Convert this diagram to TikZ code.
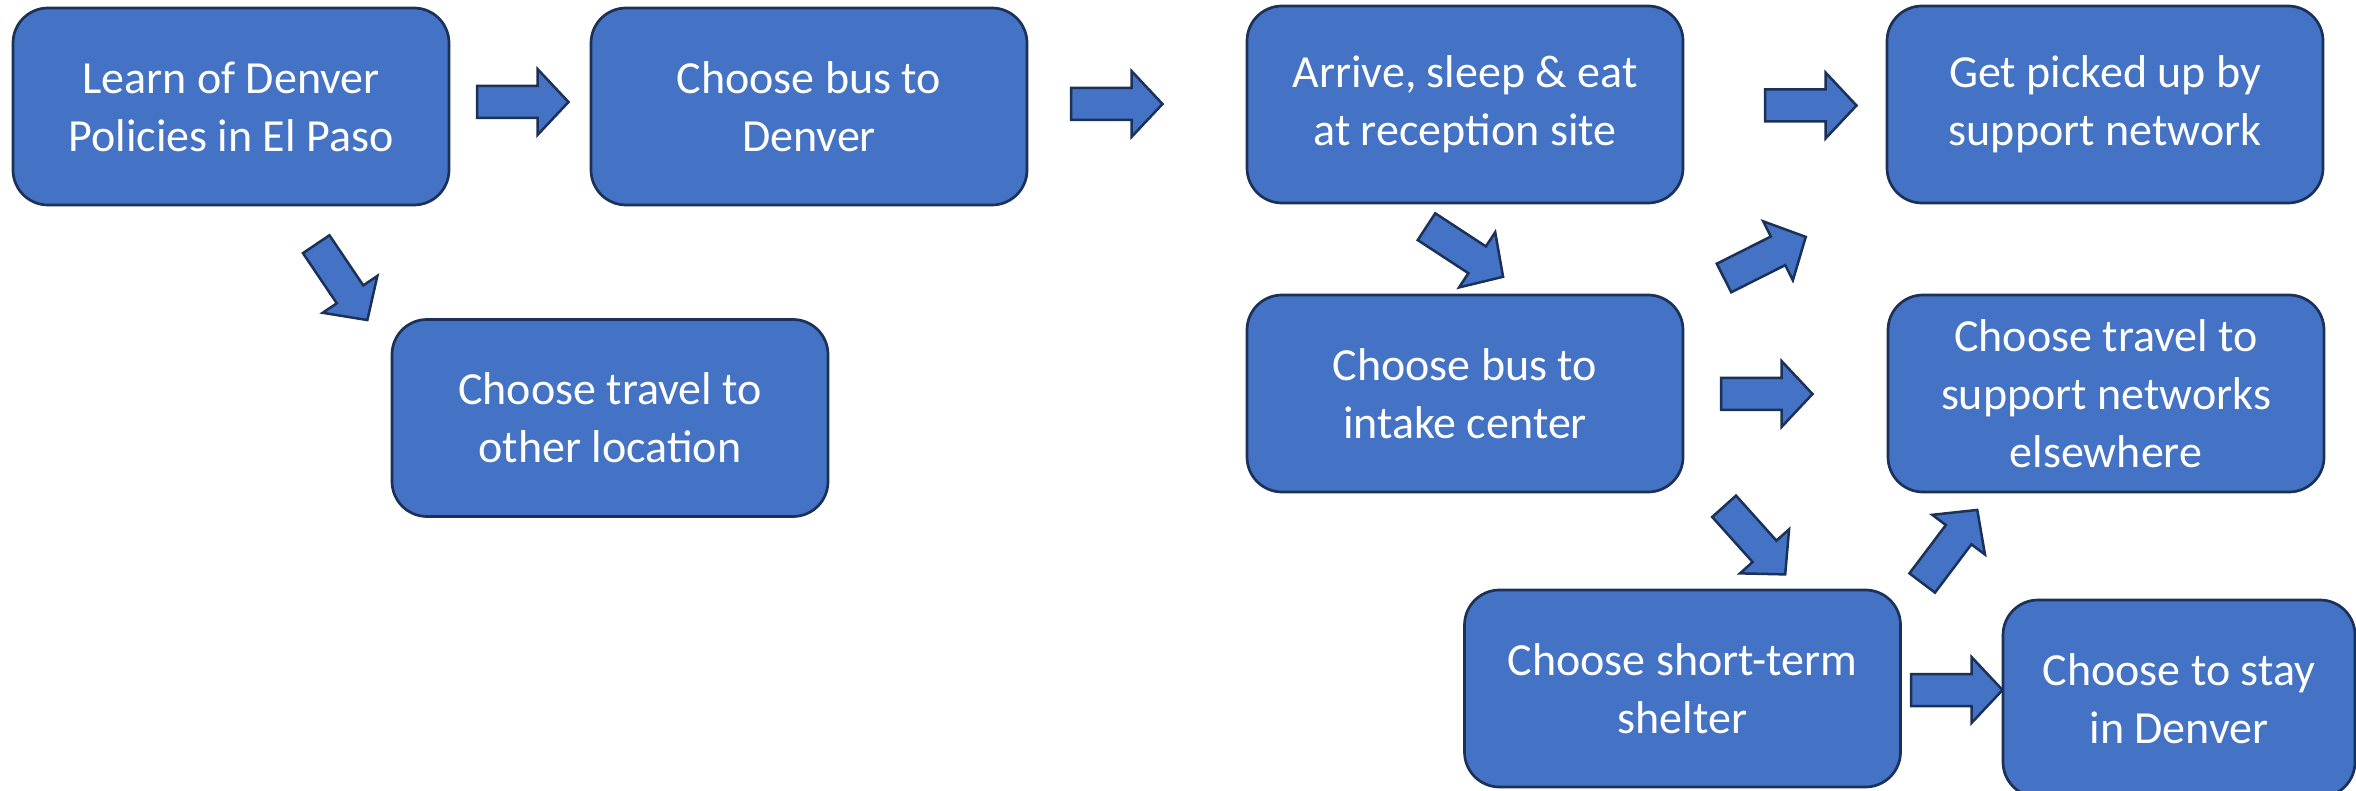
\documentclass[tikz,border=0pt]{standalone}
\usepackage{fontspec}
\setmainfont{Carlito}
\definecolor{boxfill}{HTML}{4472C4}
\definecolor{boxline}{HTML}{1C3158}
\tikzset{
  flowbox/.style={draw=boxline, fill=boxfill, line width=2.7pt, rounded corners=35pt,
    minimum width=436pt, minimum height=197pt, align=center, text=white,
    font=\fontsize{46}{58}\selectfont, inner sep=0pt},
  blockarrow/.pic={\draw[draw=boxline, fill=boxfill, line width=2.5pt, line join=miter]
    (0,-16) -- (60.5,-16) -- (60.5,-33) -- (91.5,0) -- (60.5,33) -- (60.5,16) -- (0,16) -- cycle;}
}
\begin{document}
\begin{tikzpicture}[x=1pt,y=-1pt]
\useasboundingbox (0,0) rectangle (2356,791);
\fill[white] (0,0) rectangle (2356,791);
\clip (0,0) rectangle (2356,791);

\node[flowbox] (learn)   at (231,106.5)  {Learn of Denver\\Policies in El Paso};
\node[flowbox] (bus)     at (809,106.5)  {Choose bus to\\Denver};
\node[flowbox] (other)   at (610,418)    {Choose travel to\\other location};
\node[flowbox] (arrive)  at (1465,104.5) {Arrive, sleep \& eat\\at reception site};
\node[flowbox] (pickup)  at (2105,104.5) {Get picked up by\\support network};
\node[flowbox] (intake)  at (1465,393.5) {Choose bus to\\intake center};
\node[flowbox] (travel)  at (2106,393.5) {Choose travel to\\support networks\\elsewhere};
\node[flowbox] (shelter) at (1682.5,688.5) {Choose short-term\\shelter};
\node[flowbox, minimum width=352pt] (stay) at (2179,698.5) {Choose to stay\\in Denver};

% block arrows
\pic at (477,102) {blockarrow};
\pic at (1071,104) {blockarrow};
\pic at (1765,105.5) {blockarrow};
\pic at (1721,394) {blockarrow};
\pic at (1911,690) {blockarrow};
\pic[rotate=-56] at (316.2,244.2) {blockarrow};
\pic[rotate=-33.2] at (1426.5,226.7) {blockarrow};
\pic[rotate=26.7] at (1724,278) {blockarrow};
\pic[rotate=-48.1] at (1724.1,506.3) {blockarrow};
\pic[rotate=53] at (1922.2,583) {blockarrow};
\end{tikzpicture}
\end{document}
